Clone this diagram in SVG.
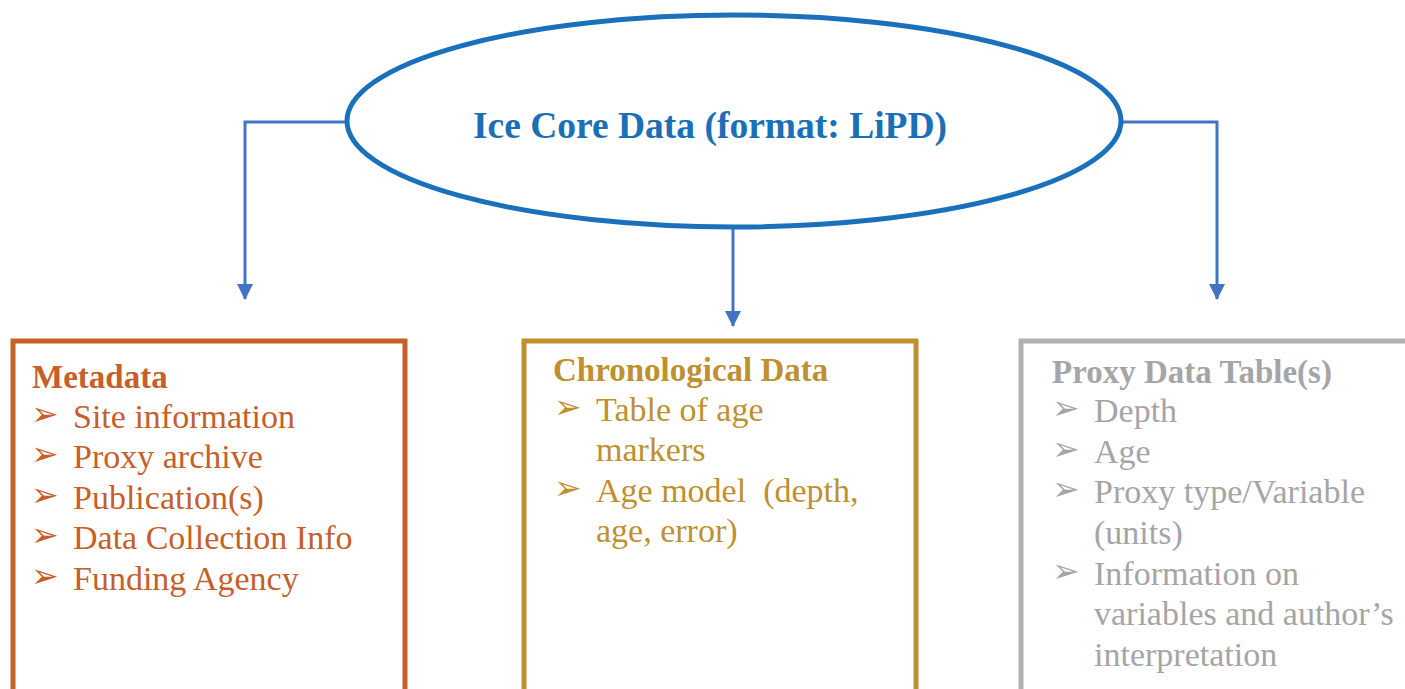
<svg xmlns="http://www.w3.org/2000/svg" width="1405" height="689" viewBox="0 0 1405 689">
<style>
.t{font-family:"Liberation Serif","Times New Roman",serif;font-size:34px}
.h{font-weight:bold;font-size:33px}
.b{font-family:"DejaVu Sans",sans-serif;font-size:33px}
.meta{fill:#C5602A}
.chro{fill:#BE9030}
.prox{fill:#A5A5A7}
.conn{fill:none;stroke:#4472C4;stroke-width:3}
</style>
<defs>
<marker id="arr" viewBox="0 0 16 16" refX="15" refY="8" markerWidth="16" markerHeight="16" markerUnits="userSpaceOnUse" orient="auto">
<path d="M0,0 L16,8 L0,16 Z" fill="#4472C4"/>
</marker>
</defs>
<rect width="1405" height="689" fill="#fff"/>
<g id="connectors">
<path class="conn" d="M347,122 H245 V299" marker-end="url(#arr)"/>
<path class="conn" d="M1122,122 H1217 V299" marker-end="url(#arr)"/>
<path class="conn" d="M733,228 V326" marker-end="url(#arr)"/>
</g>
<g id="root">
<ellipse cx="734" cy="121" rx="387" ry="106" fill="#fff" stroke="#1A70BA" stroke-width="5"/>
<text x="710" y="138" text-anchor="middle" class="t" style="font-size:37.5px;font-weight:bold" fill="#1A6FB6">Ice Core Data (format: LiPD)</text>
</g>
<g id="metadata">
<rect x="13" y="341" width="392" height="360" fill="#fff" stroke="#C5602A" stroke-width="5"/>
<text x="32" y="388" class="t h meta">Metadata</text>
<text x="31" y="425" class="b meta">➢</text>
<text x="73" y="428" class="t meta">Site information</text>
<text x="31" y="465" class="b meta">➢</text>
<text x="73" y="468" class="t meta">Proxy archive</text>
<text x="31" y="506" class="b meta">➢</text>
<text x="73" y="509" class="t meta">Publication(s)</text>
<text x="31" y="546" class="b meta">➢</text>
<text x="73" y="549" class="t meta">Data Collection Info</text>
<text x="31" y="587" class="b meta">➢</text>
<text x="73" y="590" class="t meta">Funding Agency</text>
</g>
<g id="chronological">
<rect x="524" y="341" width="392" height="360" fill="#fff" stroke="#BE9030" stroke-width="5"/>
<text x="553" y="381" class="t h chro">Chronological Data</text>
<text x="554" y="418" class="b chro">➢</text>
<text x="596" y="421" class="t chro">Table of age</text>
<text x="596" y="461" class="t chro">markers</text>
<text x="554" y="499" class="b chro">➢</text>
<text x="596" y="502" class="t chro" xml:space="preserve">Age model  (depth,</text>
<text x="596" y="542" class="t chro">age, error)</text>
</g>
<g id="proxy">
<rect x="1021" y="341" width="420" height="360" fill="#fff" stroke="#B2B2B6" stroke-width="5"/>
<text x="1052" y="383" class="t h prox">Proxy Data Table(s)</text>
<text x="1052" y="419" class="b prox">➢</text>
<text x="1094" y="422" class="t prox">Depth</text>
<text x="1052" y="460" class="b prox">➢</text>
<text x="1094" y="463" class="t prox">Age</text>
<text x="1052" y="500" class="b prox">➢</text>
<text x="1094" y="503" class="t prox">Proxy type/Variable</text>
<text x="1094" y="544" class="t prox">(units)</text>
<text x="1052" y="582" class="b prox">➢</text>
<text x="1094" y="585" class="t prox">Information on</text>
<text x="1094" y="625" class="t prox">variables and author’s</text>
<text x="1094" y="666" class="t prox">interpretation</text>
</g>
</svg>
